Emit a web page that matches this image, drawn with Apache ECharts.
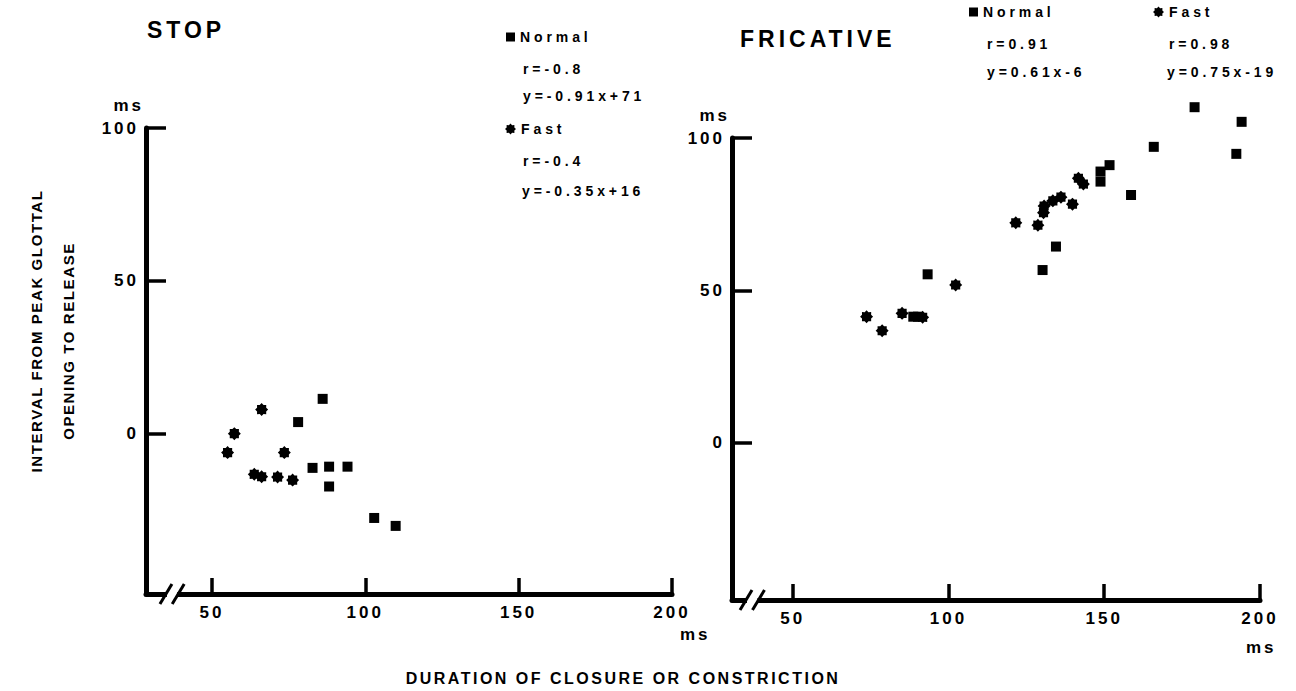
<!DOCTYPE html>
<html>
<head>
<meta charset="utf-8">
<script src="https://cdn.jsdelivr.net/npm/echarts@6/dist/echarts.min.js"></script>
<style>
html,body{margin:0;padding:0;background:#fff;}
#chart{width:1296px;height:691px;}
</style>
</head>
<body>
<div id="chart"></div>
<script>
// ---------- DATA ----------
const xTicks = [50, 100, 150, 200];
const yTicks = [0, 50, 100];

// STOP panel
const stopNormalX = [86.1, 78.1, 82.8, 88.2, 94.2, 88.2, 102.9, 109.9];
const stopNormalY = [11.3, 3.7, -11.3, -10.9, -10.9, -17.4, -27.7, -30.3];
const stopFastX   = [66.2, 57.3, 55.1, 73.6, 63.8, 66.2, 71.4, 76.3];
const stopFastY   = [7.8, -0.1, -6.3, -6.3, -13.4, -14.2, -14.3, -15.3];

// FRICATIVE panel
const fricNormalX = [93.3, 88.7, 90.2, 130.2, 134.5, 148.8, 148.8, 151.7, 158.6, 165.9, 179.0, 192.4, 194.1];
const fricNormalY = [55.3, 41.4, 41.4, 56.7, 64.4, 89.0, 85.7, 91.1, 81.3, 97.1, 110.1, 94.8, 105.3];
const fricFastX   = [73.7, 78.7, 85.1, 91.7, 102.3, 121.6, 128.7, 130.5, 130.7, 133.5, 136.1, 139.8, 141.7, 143.3];
const fricFastY   = [41.4, 36.8, 42.5, 41.2, 51.8, 72.2, 71.4, 75.5, 77.7, 79.4, 80.6, 78.3, 86.8, 84.9];

const panelTitles = ['STOP', 'FRICATIVE'];
const seriesNames = ['Normal', 'Fast'];
const stopNormalStats = ['r=-0.8', 'y=-0.91x+71'];
const stopFastStats   = ['r=-0.4', 'y=-0.35x+16'];
const fricNormalStats = ['r=0.91', 'y=0.61x-6'];
const fricFastStats   = ['r=0.98', 'y=0.75x-19'];
const yNameLines = ['INTERVAL FROM PEAK GLOTTAL', 'OPENING TO RELEASE'];
const xName = 'DURATION OF CLOSURE OR CONSTRICTION';
const unitLabel = 'ms';
const breakMarks = [35, 39];

// ---------- STYLE / LAYOUT ----------
const FONT = '"Liberation Sans", Arial, Helvetica, sans-serif';
const gridL = {left: 146, top: 128, width: 526, height: 466};
const gridR = {left: 732, top: 138, width: 528, height: 462};
const xMinL = 28.5, xMinR = 30.5;
const yMinL = -52.6, yMinR = -51.5;
const TICK_FS = 17, LEG_FS = 14, TITLE_FS = 23, XNAME_FS = 16, YNAME_FS = 15;

function starPath() {
  const pts = [];
  const n = 16;
  for (let i = 0; i < n; i++) {
    const a = (i * 360 / n - 90) * Math.PI / 180;
    const r = i % 2 === 0 ? 50 : 38;
    pts.push((50 + r * Math.cos(a)).toFixed(1) + ' ' + (50 + r * Math.sin(a)).toFixed(1));
  }
  return 'path://M' + pts.join(' L') + ' Z';
}
const STAR = starPath();

function zip(xs, ys) { return xs.map((x, i) => [x, ys[i]]); }

function xAxisCfg(gi, min) {
  return {
    type: 'value', gridIndex: gi, min: min, max: 200,
    axisLine: {show: true, onZero: false, lineStyle: {color: '#000', width: 5}},
    axisTick: {show: true, inside: true, length: 16, customValues: xTicks, lineStyle: {color: '#000', width: 3.5}},
    axisLabel: {show: true, customValues: xTicks, margin: 10, color: '#000', fontSize: TICK_FS, fontWeight: 'bold', fontFamily: FONT},
    splitLine: {show: false}
  };
}
function yAxisCfg(gi, min) {
  return {
    type: 'value', gridIndex: gi, min: min, max: 100,
    axisLine: {show: true, onZero: false, lineStyle: {color: '#000', width: 5}},
    axisTick: {show: true, inside: true, length: 20, customValues: yTicks, lineStyle: {color: '#000', width: 3.5}},
    axisLabel: {show: true, customValues: yTicks, margin: 7, color: '#000', fontSize: TICK_FS, fontWeight: 'bold', fontFamily: FONT},
    splitLine: {show: false}
  };
}
function scatter(name, xi, xs, ys, symbol, size) {
  return {
    type: 'scatter', name: name, xAxisIndex: xi, yAxisIndex: xi,
    data: zip(xs, ys), symbol: symbol, symbolSize: size, clip: false,
    itemStyle: {color: '#000', opacity: 1}, emphasis: {disabled: true}
  };
}
const legendText = {color: '#000', fontSize: LEG_FS, fontWeight: 'bold', fontFamily: FONT};
function legendCfg(name, icon, left, top, sz) {
  return {
    data: [{name: name, icon: icon}], left: left, top: top, padding: 0,
    itemWidth: sz, itemHeight: sz, selectedMode: false, textStyle: legendText
  };
}
function txt(text, x, y, size, align, extra) {
  return Object.assign({
    type: 'text', x: x, y: y, silent: true,
    style: {text: text, fill: '#000', font: 'bold ' + size + 'px ' + FONT, verticalAlign: 'middle', align: align || 'left'}
  }, extra || {});
}

const chart = echarts.init(document.getElementById('chart'), null, {renderer: 'svg'});

const option = {
  animation: false,
  backgroundColor: '#fff',
  title: [
    {text: panelTitles[0], left: 147, top: 18, padding: 0, textStyle: {fontSize: TITLE_FS, fontWeight: 'bold', fontFamily: FONT, color: '#000'}},
    {text: panelTitles[1], left: 740, top: 27, padding: 0, textStyle: {fontSize: TITLE_FS, fontWeight: 'bold', fontFamily: FONT, color: '#000'}}
  ],
  legend: [
    legendCfg(seriesNames[0], 'rect', 506, 30, 9),
    legendCfg(seriesNames[1], STAR, 505, 122, 11),
    legendCfg(seriesNames[0], 'rect', 969, 5, 9),
    legendCfg(seriesNames[1], STAR, 1153, 5, 11)
  ],
  grid: [
    Object.assign({containLabel: false}, gridL),
    Object.assign({containLabel: false}, gridR)
  ],
  xAxis: [xAxisCfg(0, xMinL), xAxisCfg(1, xMinR)],
  yAxis: [yAxisCfg(0, yMinL), yAxisCfg(1, yMinR)],
  series: [
    scatter(seriesNames[0], 0, stopNormalX, stopNormalY, 'rect', 10),
    scatter(seriesNames[1], 0, stopFastX, stopFastY, STAR, 13),
    scatter(seriesNames[0], 1, fricNormalX, fricNormalY, 'rect', 10),
    scatter(seriesNames[1], 1, fricFastX, fricFastY, STAR, 13)
  ]
};
chart.setOption(option);

// decorations positioned through the axes
const graphics = [];
const msOffset = [{dx: 8, dy: 40}, {dx: -14, dy: 47}];
[0, 1].forEach(function (gi) {
  const g = gi === 0 ? gridL : gridR;
  const bottom = g.top + g.height;
  const xs = breakMarks.map(v => chart.convertToPixel({xAxisIndex: gi}, v));
  graphics.push({type: 'rect', silent: true, z: 100,
    shape: {x: xs[0] + 1, y: bottom - 4, width: xs[1] - xs[0] - 2, height: 8},
    style: {fill: '#fff'}});
  xs.forEach(function (px) {
    graphics.push({type: 'line', silent: true, z: 101,
      shape: {x1: px - 6, y1: bottom + 10, x2: px + 6, y2: bottom - 10},
      style: {stroke: '#000', lineWidth: 3}});
  });
  const p200 = chart.convertToPixel({xAxisIndex: gi}, 200);
  graphics.push(txt(unitLabel, p200 + msOffset[gi].dx, bottom + msOffset[gi].dy, TICK_FS));
  graphics.push(txt(unitLabel, g.left - 2, g.top - 23, TICK_FS, 'right'));
});
// stats text
graphics.push(txt(stopNormalStats[0], 523, 69, LEG_FS));
graphics.push(txt(stopNormalStats[1], 523, 96, LEG_FS));
graphics.push(txt(stopFastStats[0], 523, 161, LEG_FS));
graphics.push(txt(stopFastStats[1], 522, 191, LEG_FS));
graphics.push(txt(fricNormalStats[0], 987, 44, LEG_FS));
graphics.push(txt(fricNormalStats[1], 987, 72, LEG_FS));
graphics.push(txt(fricFastStats[0], 1169, 44, LEG_FS));
graphics.push(txt(fricFastStats[1], 1167, 72, LEG_FS));
// axis names
graphics.push(txt(yNameLines[0], 36, 331, YNAME_FS, 'center', {rotation: Math.PI / 2}));
graphics.push(txt(yNameLines[1], 68, 341, YNAME_FS, 'center', {rotation: Math.PI / 2}));
graphics.push(txt(xName, 623, 678, XNAME_FS, 'center'));

chart.setOption({graphic: graphics});

function applySpacing() {
  const map = {};
  map[TITLE_FS] = 4; map[TICK_FS] = 3; map[XNAME_FS] = 2.5; map[YNAME_FS] = 1.6; map[LEG_FS] = 3.9;
  document.querySelectorAll('#chart svg text').forEach(function (t) {
    const fs = Math.round(parseFloat(getComputedStyle(t).fontSize));
    if (map[fs] != null) t.style.letterSpacing = map[fs] + 'px';
  });
}
applySpacing();
chart.on('finished', applySpacing);
setTimeout(applySpacing, 50);
</script>
</body>
</html>
